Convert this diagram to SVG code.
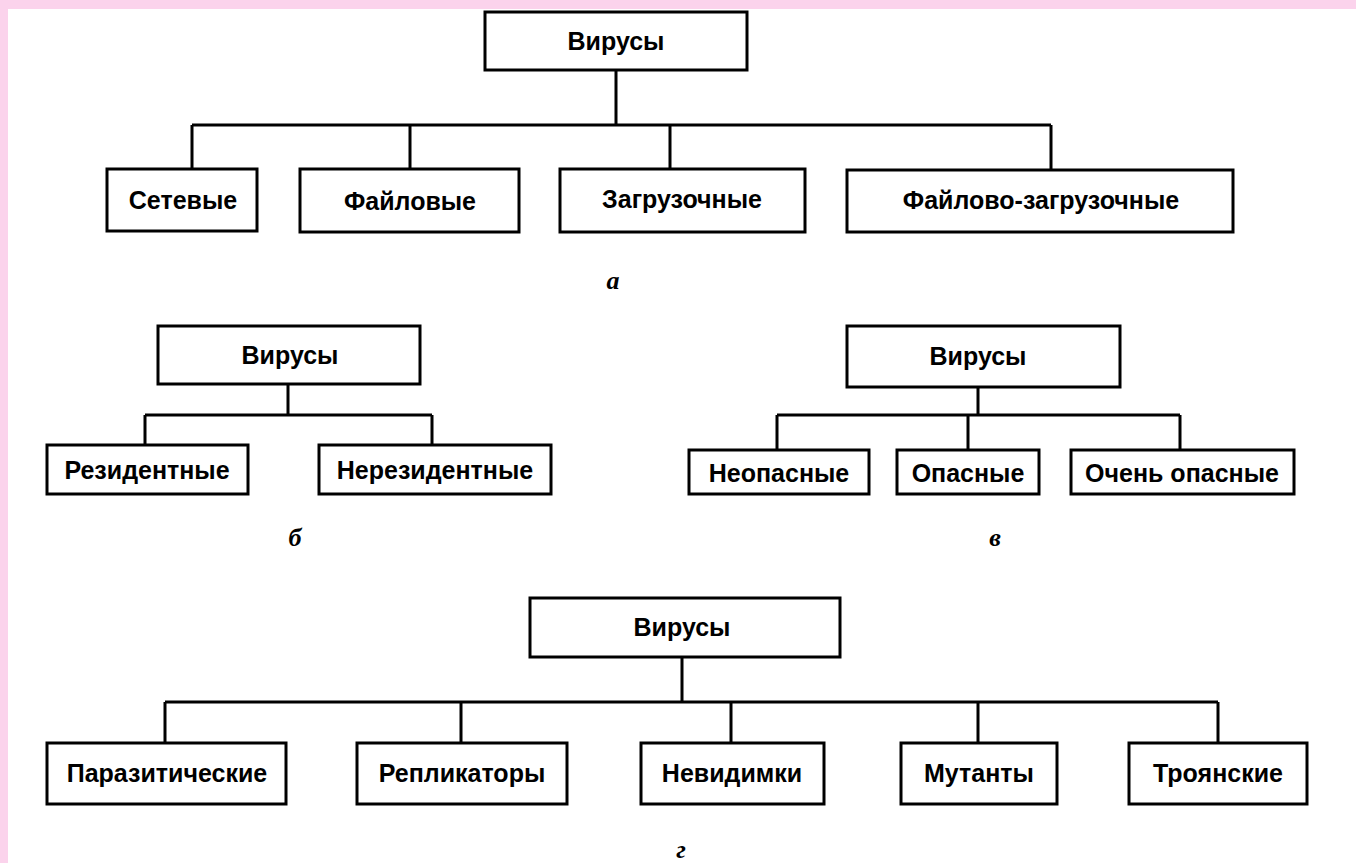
<svg xmlns="http://www.w3.org/2000/svg" width="1356" height="863" viewBox="0 0 1356 863">
<style>
.box{fill:#fff;stroke:#000;stroke-width:3}
.ln{fill:none;stroke:#000;stroke-width:3}
.t{font-family:"Liberation Sans",Arial,sans-serif;font-weight:bold;font-size:25px;fill:#000;text-anchor:middle;dominant-baseline:central}
.lab{font-family:"Liberation Serif","Times New Roman",serif;font-weight:bold;font-style:italic;font-size:26px;fill:#000;text-anchor:middle}
</style>
<rect x="0" y="0" width="1356" height="863" fill="#fff"/>
<rect x="0" y="0" width="1356" height="9" fill="#fbd3ec"/>
<rect x="0" y="0" width="8" height="863" fill="#fbd3ec"/>
<g id="connectors">
<path class="ln" d="M616 70V125M192 125H1051M192 125V169M410 125V169M670 125V169M1051 125V170"/>
<path class="ln" d="M288 384V415M145 415H432M145 415V445M432 415V445"/>
<path class="ln" d="M978 387V415M777 415H1180M777 415V450M968 415V450M1180 415V450"/>
<path class="ln" d="M682 657V702M165 702H1218M165 702V743M461 702V743M731 702V743M978 702V743M1218 702V743"/>
</g>
<g id="a-root"><rect class="box" x="485" y="12" width="262" height="58"/><text class="t" x="616" y="41">Вирусы</text></g>
<g id="a-net"><rect class="box" x="107" y="169" width="150" height="62"/><text class="t" x="183" y="200">Сетевые</text></g>
<g id="a-file"><rect class="box" x="300" y="169" width="219" height="63"/><text class="t" x="410" y="201">Файловые</text></g>
<g id="a-boot"><rect class="box" x="560" y="169" width="245" height="63"/><text class="t" x="682" y="199">Загрузочные</text></g>
<g id="a-fileboot"><rect class="box" x="847" y="170" width="386" height="62"/><text class="t" x="1041" y="200">Файлово-загрузочные</text></g>
<text class="lab" x="613" y="289">а</text>
<g id="b-root"><rect class="box" x="158" y="326" width="262" height="58"/><text class="t" x="290" y="355">Вирусы</text></g>
<g id="b-res"><rect class="box" x="47" y="445" width="201" height="49"/><text class="t" x="147" y="470">Резидентные</text></g>
<g id="b-nonres"><rect class="box" x="319" y="445" width="232" height="49"/><text class="t" x="435" y="470">Нерезидентные</text></g>
<text class="lab" x="295" y="546">б</text>
<g id="c-root"><rect class="box" x="847" y="326" width="273" height="61"/><text class="t" x="978" y="356">Вирусы</text></g>
<g id="c-safe"><rect class="box" x="689" y="450" width="180" height="44"/><text class="t" x="779" y="473">Неопасные</text></g>
<g id="c-danger"><rect class="box" x="897" y="450" width="142" height="44"/><text class="t" x="968" y="473">Опасные</text></g>
<g id="c-very"><rect class="box" x="1071" y="450" width="223" height="44"/><text class="t" x="1182" y="473">Очень опасные</text></g>
<text class="lab" x="995" y="546">в</text>
<g id="d-root"><rect class="box" x="530" y="598" width="310" height="59"/><text class="t" x="682" y="627">Вирусы</text></g>
<g id="d-par"><rect class="box" x="47" y="743" width="239" height="61"/><text class="t" x="167" y="773">Паразитические</text></g>
<g id="d-rep"><rect class="box" x="357" y="743" width="210" height="61"/><text class="t" x="462" y="773">Репликаторы</text></g>
<g id="d-inv"><rect class="box" x="641" y="743" width="183" height="61"/><text class="t" x="732" y="773">Невидимки</text></g>
<g id="d-mut"><rect class="box" x="901" y="743" width="156" height="61"/><text class="t" x="979" y="773">Мутанты</text></g>
<g id="d-troj"><rect class="box" x="1129" y="743" width="178" height="61"/><text class="t" x="1218" y="773">Троянские</text></g>
<text class="lab" x="681" y="858">г</text>
</svg>
